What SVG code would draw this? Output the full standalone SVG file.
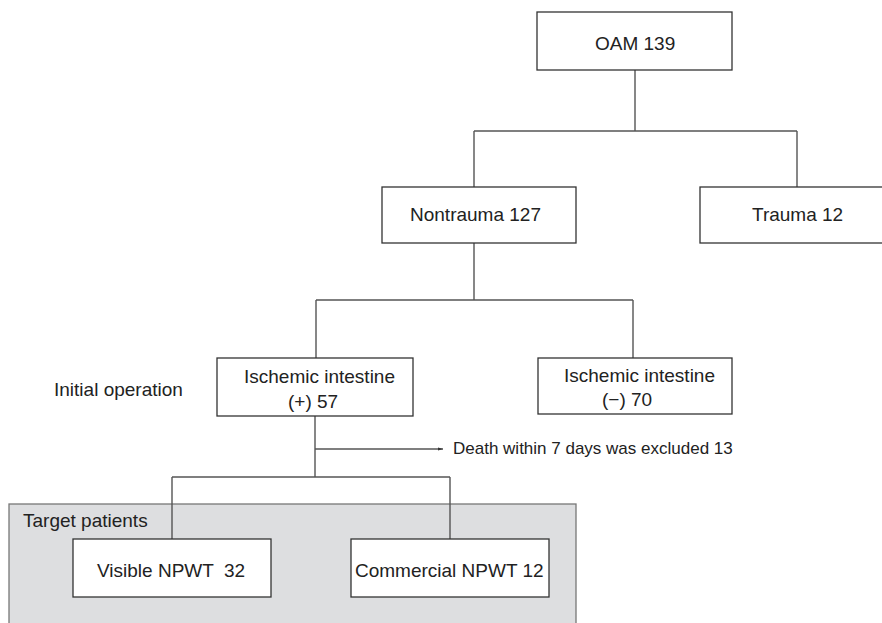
<svg xmlns="http://www.w3.org/2000/svg" width="882" height="623" viewBox="0 0 882 623">
<style>
.box{fill:#fff;stroke:#333;stroke-width:1.3}
.t{font-family:"Liberation Sans",Arial,sans-serif;font-size:19px;fill:#222}
.s{font-family:"Liberation Sans",Arial,sans-serif;font-size:17px;fill:#222}
.c{fill:none;stroke:#555;stroke-width:1.4}
</style>
<defs>
<marker id="ah" markerWidth="6" markerHeight="6" refX="5" refY="3" orient="auto" markerUnits="userSpaceOnUse">
<path d="M0,1.5 L5,3 L0,4.5 Z" fill="#333"/>
</marker>
</defs>
<g id="target-patients">
<rect x="9" y="504" width="567" height="125" fill="#dddee0" stroke="#777" stroke-width="1.3"/>
<text class="t" x="23" y="527">Target patients</text>
</g>
<g id="connectors">
<path class="c" d="M635,70 V131 M474,131 H797 M474,131 V187 M797,131 V187"/>
<path class="c" d="M474,243 V300 M316,300 H633 M316,300 V358 M633,300 V358"/>
<path class="c" d="M315,416 V477 M172,477 H450 M172,477 V539 M450,477 V539"/>
<path class="c" d="M315,449 H443" marker-end="url(#ah)"/>
</g>
<g id="oam"><rect class="box" x="537" y="12" width="195" height="58"/><text class="t" x="595" y="50">OAM 139</text></g>
<g id="nontrauma"><rect class="box" x="382" y="187" width="194" height="56"/><text class="t" x="410" y="221">Nontrauma 127</text></g>
<g id="trauma"><rect class="box" x="700" y="187" width="190" height="56"/><text class="t" x="752" y="221">Trauma 12</text></g>
<g id="initial-operation"><text class="t" x="54" y="396">Initial operation</text></g>
<g id="ischemic-pos"><rect class="box" x="217" y="358" width="196" height="58"/><text class="t" x="244" y="383">Ischemic intestine</text><text class="t" x="288" y="408">(+) 57</text></g>
<g id="ischemic-neg"><rect class="box" x="538" y="358" width="194" height="56"/><text class="t" x="564" y="382">Ischemic intestine</text><text class="t" x="602" y="406">(−) 70</text></g>
<g id="death"><text class="s" x="453" y="454">Death within 7 days was excluded 13</text></g>
<g id="visible"><rect class="box" x="73" y="539" width="198" height="58"/><text class="t" x="97" y="577" xml:space="preserve">Visible NPWT  32</text></g>
<g id="commercial"><rect class="box" x="351" y="539" width="198" height="58"/><text class="t" x="355" y="577">Commercial NPWT 12</text></g>
</svg>
